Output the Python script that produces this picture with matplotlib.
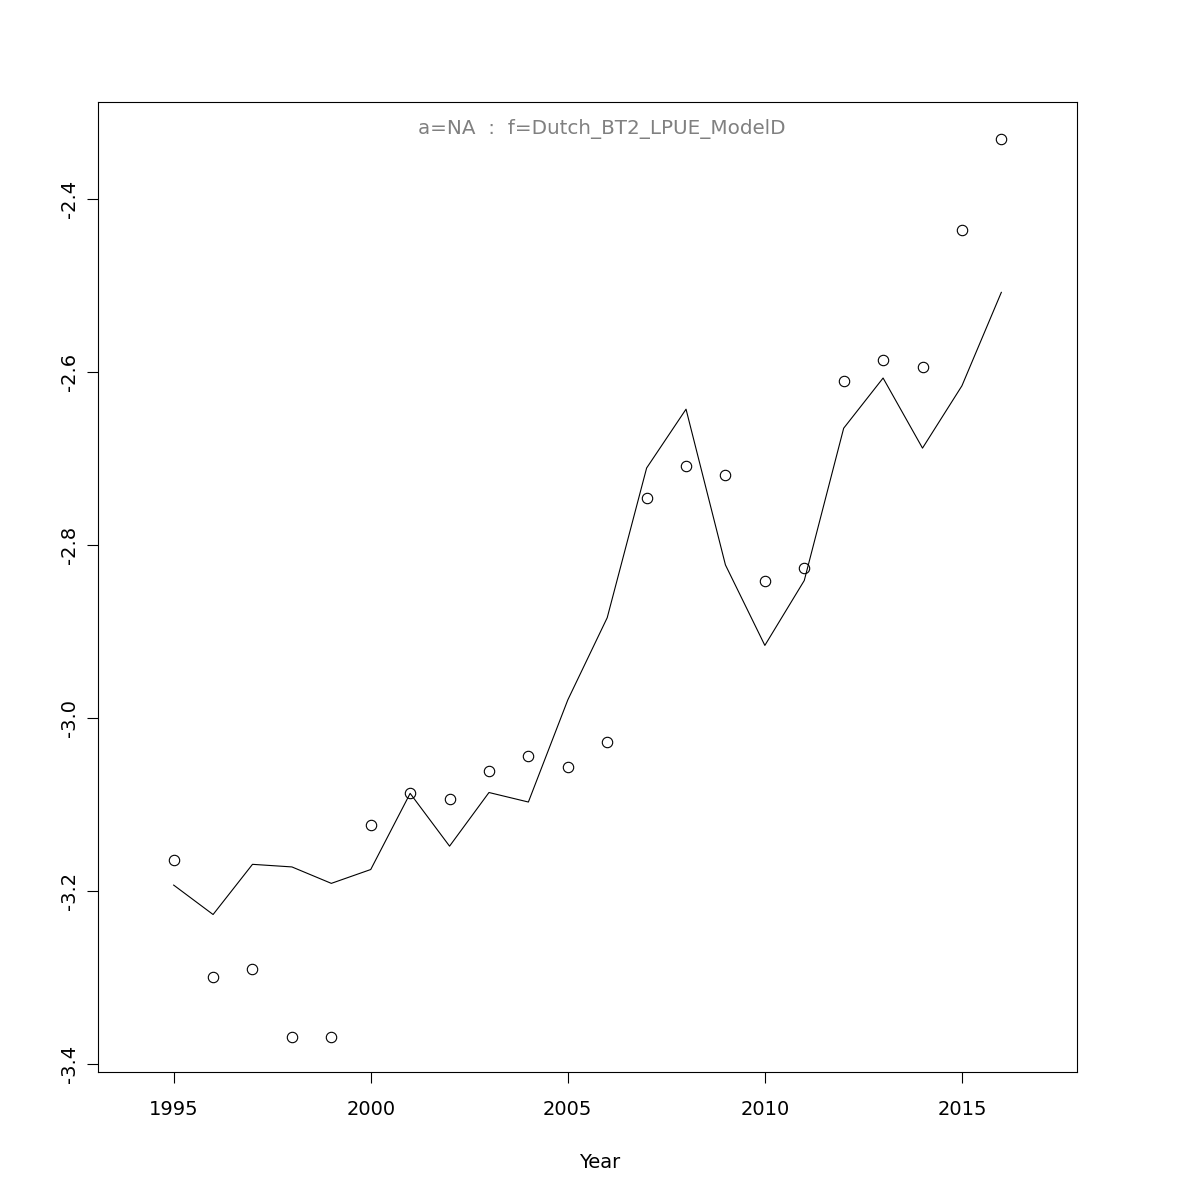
import numpy as np
import matplotlib.pyplot as plt

years = np.arange(1995, 2017)
observed = [-3.164, -3.299, -3.290, -3.368, -3.369, -3.123, -3.087, -3.094,
            -3.061, -3.044, -3.056, -3.028, -2.746, -2.709, -2.719, -2.842,
            -2.827, -2.610, -2.586, -2.594, -2.436, -2.331]
fitted = [-3.193, -3.227, -3.169, -3.172, -3.191, -3.175, -3.087, -3.148,
          -3.086, -3.097, -2.979, -2.884, -2.711, -2.643, -2.823, -2.916,
          -2.841, -2.665, -2.607, -2.688, -2.616, -2.508]
x_ticks = [1995, 2000, 2005, 2010, 2015]
y_ticks = [-3.4, -3.2, -3.0, -2.8, -2.6, -2.4]
title = "a=NA  :  f=Dutch_BT2_LPUE_ModelD"

plt.rcParams['font.family'] = 'DejaVu Sans'
fig = plt.figure(figsize=(12, 12), dpi=100)
ax = fig.add_axes([98 / 1200, 1 - 1072 / 1200, (1077 - 98) / 1200, (1072 - 102) / 1200])

ax.plot(years, observed, linestyle='none', marker='o', markersize=7.5,
        markerfacecolor='none', markeredgecolor='black', markeredgewidth=0.8)
ax.plot(years, fitted, color='black', linewidth=0.8)

ax.set_xlim(1993.08, 2017.92)
ax.set_ylim(-3.409, -2.288)
ax.set_xticks(x_ticks)
ax.set_yticks(y_ticks)
ax.set_yticklabels([f"{v:.1f}" for v in y_ticks], rotation=90, va='center')
ax.tick_params(axis='both', labelsize=14, length=8, width=0.8)
ax.tick_params(axis='x', pad=12)
ax.tick_params(axis='y', pad=6)
for s in ax.spines.values():
    s.set_linewidth(0.8)

# R places the axis title at the centre of the figure
fig.text(0.5, 1 - 1162 / 1200, "Year", ha='center', va='center', fontsize=14)
ax.text(0.515, 0.972, title, transform=ax.transAxes, ha='center', va='center',
        fontsize=14.3, color='#808080')

fig.savefig("out.png", dpi=100)
